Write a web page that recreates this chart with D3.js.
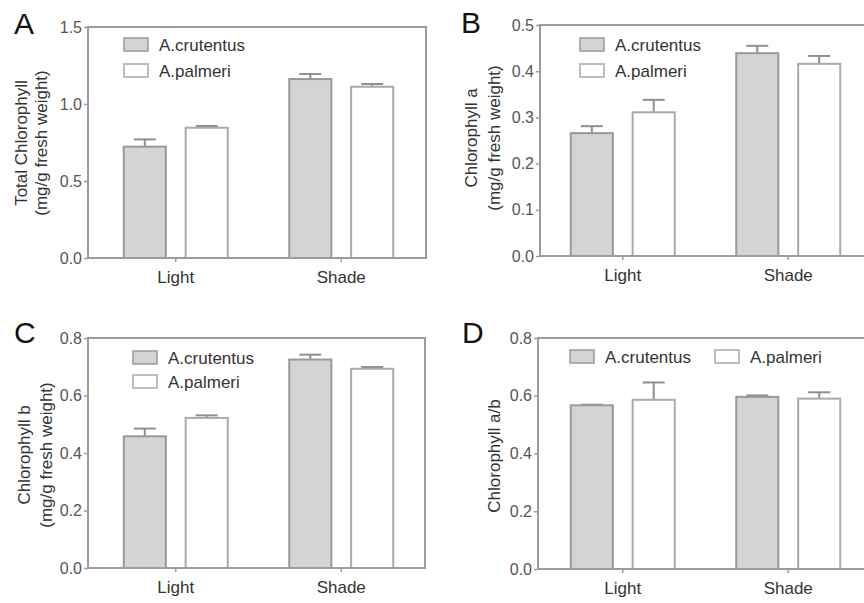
<!DOCTYPE html>
<html>
<head>
<meta charset="utf-8">
<script src="https://cdn.jsdelivr.net/npm/d3@7"></script>
<style>
  html, body { margin: 0; padding: 0; background: #fff; }
  svg { display: block; font-family: "Liberation Sans", Arial, sans-serif; }
</style>
</head>
<body>
<svg id="chart" width="864" height="603"></svg>
<script>
// ---------- data ----------
const categories = ["Light", "Shade"];
const seriesNames = ["A.crutentus", "A.palmeri"];

// Panel A: Total chlorophyll (mg/g fresh weight)
const totalCrutentus = [0.723, 1.162];
const totalCrutentusErr = [0.047, 0.033];
const totalPalmeri = [0.846, 1.112];
const totalPalmeriErr = [0.011, 0.018];

// Panel B: Chlorophyll a
const chlACrutentus = [0.266, 0.439];
const chlACrutentusErr = [0.015, 0.016];
const chlAPalmeri = [0.311, 0.416];
const chlAPalmeriErr = [0.027, 0.017];

// Panel C: Chlorophyll b
const chlBCrutentus = [0.458, 0.725];
const chlBCrutentusErr = [0.027, 0.017];
const chlBPalmeri = [0.522, 0.693];
const chlBPalmeriErr = [0.009, 0.006];

// Panel D: Chlorophyll a/b
const ratioCrutentus = [0.567, 0.596];
const ratioCrutentusErr = [0.002, 0.005];
const ratioPalmeri = [0.586, 0.590];
const ratioPalmeriErr = [0.060, 0.022];

// tick labels
const ticksA = ["0.0", "0.5", "1.0", "1.5"];
const ticksB = ["0.0", "0.1", "0.2", "0.3", "0.4", "0.5"];
const ticksC = ["0.0", "0.2", "0.4", "0.6", "0.8"];
const ticksD = ["0.0", "0.2", "0.4", "0.6", "0.8"];

// ---------- layout ----------
const panels = [
  { letter: "A", lx: 14, ly: 34, left: 88, top: 27, bottom: 258, right: 426, xs: 93, ymax: 1.5, ticks: ticksA,
    means: [totalCrutentus, totalPalmeri], errs: [totalCrutentusErr, totalPalmeriErr],
    ylab: ["Total Chlorophyll", "(mg/g fresh weight)"], ylx: [27, 47], yly: 143,
    legend: { type: "v", x: 124, y: 38, dy: 26 } },
  { letter: "B", lx: 461, ly: 33, left: 540, top: 25, bottom: 256, right: 900, xs: 540, ymax: 0.5, ticks: ticksB,
    means: [chlACrutentus, chlAPalmeri], errs: [chlACrutentusErr, chlAPalmeriErr],
    ylab: ["Chlorophyll a", "(mg/g fresh weight)"], ylx: [477, 500], yly: 138,
    legend: { type: "v", x: 580, y: 38, dy: 26 } },
  { letter: "C", lx: 14, ly: 343, left: 88, top: 338, bottom: 568, right: 425, xs: 93, ymax: 0.8, ticks: ticksC,
    means: [chlBCrutentus, chlBPalmeri], errs: [chlBCrutentusErr, chlBPalmeriErr],
    ylab: ["Chlorophyll b", "(mg/g fresh weight)"], ylx: [30, 52], yly: 455,
    legend: { type: "v", x: 133, y: 351, dy: 24 } },
  { letter: "D", lx: 462, ly: 343, left: 538, top: 338, bottom: 569, right: 900, xs: 540, ymax: 0.8, ticks: ticksD,
    means: [ratioCrutentus, ratioPalmeri], errs: [ratioCrutentusErr, ratioPalmeriErr],
    ylab: ["Chlorophyll a/b"], ylx: [500], yly: 456,
    legend: { type: "h", x: 570, y: 350, dx: 145 } }
];

const fills = ["#d4d4d4", "#ffffff"];
const strokes = ["#999999", "#aaaaaa"];
const frameColor = "#9c9c9c";
const textColor = "#333333";

const svg = d3.select("#chart");

panels.forEach(p => {
  const g = svg.append("g");
  const y = d3.scaleLinear().domain([0, p.ymax]).range([p.bottom, p.top]);
  const x0 = d3.scaleBand().domain(categories).range([p.xs, p.xs + 331]).padding(0);
  const bw = x0.bandwidth();
  const x1 = d3.scaleBand().domain(seriesNames).range([bw / 2 - 52, bw / 2 + 52]).paddingInner(0.32);

  // bars
  seriesNames.forEach((s, si) => {
    categories.forEach((c, ci) => {
      const v = p.means[si][ci];
      const e = p.errs[si][ci];
      const bx = x0(c) + x1(s);
      const cx = bx + x1.bandwidth() / 2;
      // error bar (upper only)
      g.append("line").attr("x1", cx).attr("x2", cx)
        .attr("y1", y(v)).attr("y2", y(v + e))
        .attr("stroke", "#8f8f8f").attr("stroke-width", 2);
      g.append("line").attr("x1", cx - 11).attr("x2", cx + 11)
        .attr("y1", y(v + e)).attr("y2", y(v + e))
        .attr("stroke", "#8f8f8f").attr("stroke-width", 2);
      g.append("rect")
        .attr("x", bx).attr("y", y(v))
        .attr("width", x1.bandwidth()).attr("height", p.bottom - y(v))
        .attr("fill", fills[si]).attr("stroke", strokes[si]).attr("stroke-width", 2);
    });
  });

  // frame
  g.append("rect").attr("x", p.left).attr("y", p.top)
    .attr("width", p.right - p.left).attr("height", p.bottom - p.top)
    .attr("fill", "none").attr("stroke", frameColor).attr("stroke-width", 2);

  // y axis
  const tickVals = p.ticks.map(t => +t);
  const yAxis = d3.axisLeft(y).tickValues(tickVals).tickSize(4).tickPadding(2)
    .tickFormat((d, i) => p.ticks[i]);
  const ya = g.append("g").attr("transform", `translate(${p.left},0)`).call(yAxis);
  ya.select(".domain").remove();
  ya.selectAll(".tick line").attr("stroke", frameColor).attr("stroke-width", 1.5);
  ya.selectAll(".tick text").attr("fill", "#555").style("font-size", "16px")
    .style("font-family", "'Liberation Sans', Arial, sans-serif");

  // x axis
  const xAxis = d3.axisBottom(x0).tickSize(4).tickPadding(9);
  const xa = g.append("g").attr("transform", `translate(0,${p.bottom})`).call(xAxis);
  xa.select(".domain").remove();
  xa.selectAll(".tick line").attr("stroke", frameColor).attr("stroke-width", 1.5);
  xa.selectAll(".tick text").attr("fill", textColor).style("font-size", "17px")
    .style("font-family", "'Liberation Sans', Arial, sans-serif");

  // y label
  p.ylab.forEach((t, i) => {
    g.append("text")
      .attr("transform", `translate(${p.ylx[i]},${p.yly}) rotate(-90)`)
      .attr("text-anchor", "middle")
      .attr("fill", textColor).style("font-size", "17px")
      .text(t);
  });

  // panel letter
  g.append("text").attr("x", p.lx).attr("y", p.ly)
    .attr("fill", "#111").style("font-size", "30px").text(p.letter);

  // legend
  seriesNames.forEach((s, si) => {
    let sx, sy;
    if (p.legend.type === "v") { sx = p.legend.x; sy = p.legend.y + si * p.legend.dy; }
    else { sx = p.legend.x + si * p.legend.dx; sy = p.legend.y; }
    g.append("rect").attr("x", sx).attr("y", sy).attr("width", 24).attr("height", 13)
      .attr("fill", fills[si]).attr("stroke", strokes[si]).attr("stroke-width", 1.5);
    g.append("text").attr("x", sx + 35).attr("y", sy + 12.5)
      .attr("fill", textColor).style("font-size", "17px").text(s);
  });
});
</script>
</body>
</html>
